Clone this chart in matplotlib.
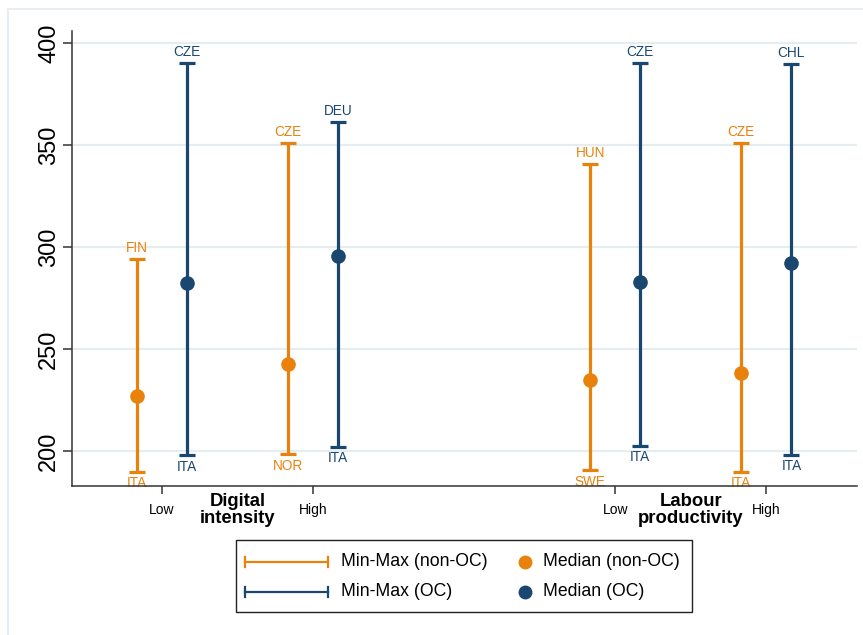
import matplotlib
matplotlib.use("Agg")
import matplotlib.pyplot as plt
from matplotlib.lines import Line2D
import numpy as np

plt.rcParams['font.family'] = ['Liberation Sans', 'DejaVu Sans']

# Groups: (dimension, level)
dimensions = ["Digital\nintensity", "Labour\nproductivity"]
levels = ["Low", "High"]
group_pos = [1, 2, 4, 5]
tick_labels = ["Low", "High", "Low", "High"]

# non-OC series
nonoc_min = [189.7, 198.5, 190.6, 189.7]
nonoc_max = [294.1, 351.1, 340.6, 351.1]
nonoc_med = [227.3, 242.9, 235.0, 238.4]
nonoc_min_lab = ["ITA", "NOR", "SWE", "ITA"]
nonoc_max_lab = ["FIN", "CZE", "HUN", "CZE"]

# OC series
oc_min = [198.0, 202.3, 202.6, 198.2]
oc_max = [390.3, 361.4, 390.3, 389.8]
oc_med = [282.6, 295.7, 283.0, 292.3]
oc_min_lab = ["ITA", "ITA", "ITA", "ITA"]
oc_max_lab = ["CZE", "DEU", "CZE", "CHL"]

ORANGE = "#E8820C"
NAVY = "#1A476F"
GRID = "#E6EDF0"

W, H = 863, 635
fig = plt.figure(figsize=(W / 100, H / 100), dpi=100)

# outer graph region line
fig.add_artist(Line2D([8 / W, 8 / W], [0, 1 - 9 / H], color="#E8EEF1", lw=1.5))
fig.add_artist(Line2D([8 / W, 1], [1 - 9 / H, 1 - 9 / H], color="#E8EEF1", lw=1.5))

AX_TOP, AX_BOT = 31, 486
ax = fig.add_axes([72 / W, 1 - AX_BOT / H, (857 - 72) / W, (AX_BOT - AX_TOP) / H])

off = 0.166
x = np.array(group_pos, dtype=float)
xn = x - off
xo = x + off

ax.set_ylim(183.0, 406.0)
ax.set_xlim(0.404, 5.6)

for yv in [200, 250, 300, 350, 400]:
    ax.axhline(yv, color=GRID, lw=1.6, zorder=0)

ax.errorbar(xn, nonoc_med,
            yerr=[np.array(nonoc_med) - np.array(nonoc_min),
                  np.array(nonoc_max) - np.array(nonoc_med)],
            fmt="none", ecolor=ORANGE, elinewidth=2.3, capsize=6, capthick=2.3, zorder=3)
ax.errorbar(xo, oc_med,
            yerr=[np.array(oc_med) - np.array(oc_min),
                  np.array(oc_max) - np.array(oc_med)],
            fmt="none", ecolor=NAVY, elinewidth=2.3, capsize=6, capthick=2.3, zorder=3)
ax.plot(xn, nonoc_med, "o", color=ORANGE, ms=9.5, zorder=4)
ax.plot(xo, oc_med, "o", color=NAVY, ms=9.5, zorder=4)

lab_fs = 9.8
for xi, lo, hi, llo, lhi in zip(xn, nonoc_min, nonoc_max, nonoc_min_lab, nonoc_max_lab):
    ax.annotate(lhi, (xi, hi), xytext=(0, 3), textcoords="offset points",
                ha="center", va="bottom", color=ORANGE, fontsize=lab_fs)
    ax.annotate(llo, (xi, lo), xytext=(0, -3), textcoords="offset points",
                ha="center", va="top", color=ORANGE, fontsize=lab_fs, zorder=1)
for xi, lo, hi, llo, lhi in zip(xo, oc_min, oc_max, oc_min_lab, oc_max_lab):
    ax.annotate(lhi, (xi, hi), xytext=(0, 3), textcoords="offset points",
                ha="center", va="bottom", color=NAVY, fontsize=lab_fs)
    ax.annotate(llo, (xi, lo), xytext=(0, -3), textcoords="offset points",
                ha="center", va="top", color=NAVY, fontsize=lab_fs)

# axes styling
for s in ["top", "right"]:
    ax.spines[s].set_visible(False)
ax.spines["left"].set_color("#333333")
ax.spines["bottom"].set_color("#333333")
ax.spines["left"].set_linewidth(1.1)
ax.spines["bottom"].set_linewidth(1.1)
ax.spines["bottom"].set_zorder(5)

ax.set_yticks([200, 250, 300, 350, 400])
ax.set_yticklabels(["200", "250", "300", "350", "400"], rotation=90, va="center",
                   fontsize=17)
ax.tick_params(axis="y", length=6.5, width=1.1, color="#333333", pad=2)

ax.set_xticks(group_pos)
ax.set_xticklabels(tick_labels, fontsize=10)
ax.tick_params(axis="x", length=6, width=1.1, color="#333333", pad=6)

ylab = -(510 - AX_BOT) / (AX_BOT - AX_TOP)
for i, name in enumerate(dimensions):
    xc = (group_pos[2 * i] + group_pos[2 * i + 1]) / 2
    ax.text(xc, ylab, name, transform=ax.get_xaxis_transform(), ha="center", va="center",
            fontsize=13.3, fontweight="bold", linespacing=0.95)

# legend panel
lax = fig.add_axes([0, 0, 1, 1])
lax.set_xlim(0, W)
lax.set_ylim(H, 0)
lax.axis("off")
lax.add_patch(plt.Rectangle((236, 540), 456, 72, fill=False, edgecolor="#222222", lw=1.0))
rows = [(562, ORANGE, "Min-Max (non-OC)", "Median (non-OC)"),
        (592, NAVY, "Min-Max (OC)", "Median (OC)")]
for yy, col, t1, t2 in rows:
    lax.plot([245, 328], [yy, yy], color=col, lw=1.6)
    lax.plot([245, 245], [yy - 5, yy + 5], color=col, lw=1.6)
    lax.plot([328, 328], [yy - 5, yy + 5], color=col, lw=1.6)
    lax.text(341, yy, t1, va="center", ha="left", fontsize=12.7)
    lax.plot([525], [yy], "o", color=col, ms=9)
    lax.text(543, yy, t2, va="center", ha="left", fontsize=12.7)

fig.savefig("out.png", dpi=100, facecolor="white")
